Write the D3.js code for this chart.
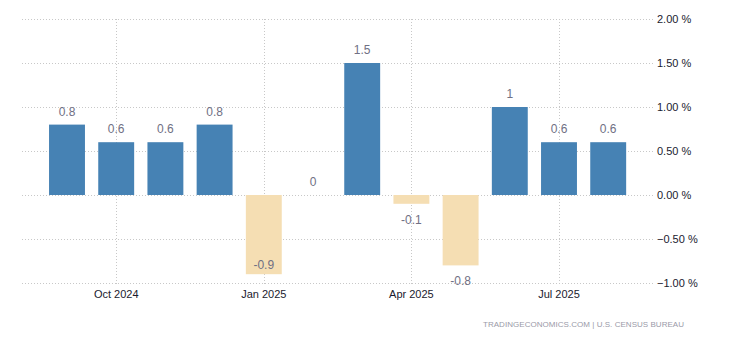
<!DOCTYPE html>
<html>
<head>
<meta charset="utf-8">
<script src="https://cdn.jsdelivr.net/npm/d3@7"></script>
<style>
  body { margin: 0; background: #fff; }
  text { font-family: "Liberation Sans", Arial, sans-serif; }
</style>
</head>
<body>
<div id="chart"></div>
<script>
// Chart data
var months = ["2024-09", "2024-10", "2024-11", "2024-12", "2025-01", "2025-02",
              "2025-03", "2025-04", "2025-05", "2025-06", "2025-07", "2025-08"];
var values = [0.8, 0.6, 0.6, 0.8, -0.9, 0, 1.5, -0.1, -0.8, 1, 0.6, 0.6];
var xTickMonths = ["2024-10", "2025-01", "2025-04", "2025-07"];
var xTickLabels = ["Oct 2024", "Jan 2025", "Apr 2025", "Jul 2025"];
var yTicks = [-1, -0.5, 0, 0.5, 1, 1.5, 2];

var svgWidth = 730;
var svgHeight = 340;

var svg = d3.select("#chart")
  .append("svg")
  .attr("width", svgWidth)
  .attr("height", svgHeight);

// scales
var x = d3.scaleBand()
  .domain(months)
  .range([42.4, 632.8])
  .paddingInner(0.27)
  .paddingOuter(0.135);

var y = d3.scaleLinear()
  .domain([-1, 2])
  .range([283, 19]);

var gridLeft = 22, gridRight = 653;

// horizontal grid
svg.append("g")
  .selectAll("line")
  .data(yTicks)
  .join("line")
  .attr("x1", gridLeft)
  .attr("x2", gridRight)
  .attr("y1", d => Math.round(y(d)) + 0.5)
  .attr("y2", d => Math.round(y(d)) + 0.5)
  .attr("stroke", "#c8c8c8")
  .attr("stroke-dasharray", "1,2");

// vertical grid at quarter months
svg.append("g")
  .selectAll("line")
  .data(xTickMonths)
  .join("line")
  .attr("x1", d => Math.round(x(d) + x.bandwidth() / 2) + 0.5)
  .attr("x2", d => Math.round(x(d) + x.bandwidth() / 2) + 0.5)
  .attr("y1", y(2))
  .attr("y2", y(-1) + 3)
  .attr("stroke", "#c8c8c8")
  .attr("stroke-dasharray", "1,2");

// y axis labels on the right
var yAxis = d3.axisRight(y)
  .tickValues(yTicks)
  .tickSize(0)
  .tickPadding(0)
  .tickFormat(d => d3.format(".2f")(d) + " %");

svg.append("g")
  .attr("transform", "translate(657,0)")
  .call(yAxis)
  .call(g => g.select(".domain").remove())
  .selectAll("text")
  .attr("font-size", "11px")
  .attr("font-family", "Liberation Sans, Arial, sans-serif")
  .attr("fill", "#1a1a2e");

// x axis labels
var xAxis = d3.axisBottom(x)
  .tickValues(xTickMonths)
  .tickSize(0)
  .tickPadding(0)
  .tickFormat(d => xTickLabels[xTickMonths.indexOf(d)]);

svg.append("g")
  .attr("transform", "translate(0,290)")
  .call(xAxis)
  .call(g => g.select(".domain").remove())
  .selectAll("text")
  .attr("font-size", "11px")
  .attr("font-family", "Liberation Sans, Arial, sans-serif")
  .attr("fill", "#1a1a2e");

// bars
svg.append("g")
  .selectAll("rect")
  .data(values)
  .join("rect")
  .attr("x", (d, i) => x(months[i]))
  .attr("width", x.bandwidth())
  .attr("y", d => y(Math.max(0, d)))
  .attr("height", d => Math.abs(y(d) - y(0)))
  .attr("fill", d => d >= 0 ? "#4682b4" : "#f5deb3");

// value labels
svg.append("g")
  .selectAll("text")
  .data(values)
  .join("text")
  .attr("x", (d, i) => x(months[i]) + x.bandwidth() / 2)
  .attr("y", d => {
    if (d >= 0) return y(d) - 9;
    var below = y(d) + 20;
    return below > 290 ? y(d) - 5 : below;
  })
  .attr("text-anchor", "middle")
  .attr("font-size", "12px")
  .attr("fill", "#707084")
  .text(d => d);

// source note
svg.append("text")
  .attr("x", 684)
  .attr("y", 327)
  .attr("text-anchor", "end")
  .attr("font-size", "8px")
  .attr("fill", "#9a9aa8")
  .attr("textLength", 201)
  .attr("lengthAdjust", "spacing")
  .text("TRADINGECONOMICS.COM | U.S. CENSUS BUREAU");
</script>
</body>
</html>
